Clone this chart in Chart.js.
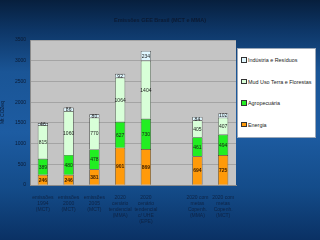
<!DOCTYPE html>
<html>
<head>
<meta charset="utf-8">
<script src="https://cdn.jsdelivr.net/npm/chart.js"></script>
<style>
  html, body { margin: 0; padding: 0; }
  body {
    width: 320px; height: 240px; overflow: hidden; position: relative;
    background: linear-gradient(180deg, #071f3d 0%, #0d3565 12%, #1a5596 30%, #1d5ca2 55%, #144c8a 78%, #0a3164 100%);
    font-family: "Liberation Sans", Arial, sans-serif;
  }
  #wrap { position: absolute; left: 0; top: 0; width: 320px; height: 240px; }
  #title {
    position: absolute; left: 0; width: 320px; top: 17px; text-align: center;
    font-size: 5.5px; font-weight: bold; color: #0b1a33;
  }
  #legend {
    position: absolute; left: 237px; top: 48px; width: 79px; height: 90px;
    background: #ffffff; border: 1px solid #9aa7b8; box-sizing: border-box;
  }
  .item { position: absolute; left: 3px; font-size: 5.4px; color: #222; white-space: nowrap; }
  .item span {
    display: inline-block; width: 3.5px; height: 3.5px; border: 0.8px solid #333;
    margin-right: 1.5px; vertical-align: -0.5px;
  }
</style>
</head>
<body>
<div id="wrap"><canvas id="chart" width="320" height="240"></canvas></div>
<div id="title">Emissões GEE Brasil (MCT e MMA)</div>
<div id="legend"></div>
<script>
// Categories (one empty slot between the scenarios)
const categories = [
  ["emissões", "1994", "(MCT)"],
  ["emissões", "2000", "(MCT)"],
  ["emissões", "2005", "(MCT)"],
  ["2020", "cenário", "tendencial", "(MMA)"],
  ["2020", "cenário", "tendencial", "c/ UHE", "(EPE)"],
  "",
  ["2020 com", "metas", "Copenh.", "(MMA)"],
  ["2020 com", "metas", "Copenh.", "(MCT)"]
];

// Series values (Mt CO2eq)
const energia = [246, 246, 381, 901, 869, null, 694, 725];
const agropecuaria = [389, 480, 478, 627, 730, null, 461, 494];
const mudUsoTerra = [815, 1060, 770, 1064, 1404, null, 405, 407];
const industria = [46, 86, 80, 92, 234, null, 84, 102];

const yTicks = [0, 500, 1000, 1500, 2000, 2500, 3000, 3500];

const seriesNames = ["Energia", "Agropecuária", "Mud Uso Terra e Florestas", "Indústria e Resíduos"];
const seriesColors = ["#ff9a0a", "#22ee22", "#d8ffd8", "#dff7ff"];

// Legend (top to bottom = reverse of stack order)
const legendEl = document.getElementById("legend");
const legendTops = [8, 29.5, 51, 72.5];
[3, 2, 1, 0].forEach((idx, i) => {
  const div = document.createElement("div");
  div.className = "item";
  div.style.top = legendTops[i] + "px";
  div.innerHTML = '<span style="background:' + seriesColors[idx] + '"></span>' + seriesNames[idx];
  legendEl.appendChild(div);
});

// Gray plot background
const plotBg = {
  id: "plotBg",
  beforeDraw(chart) {
    const { ctx, chartArea: a } = chart;
    ctx.save();
    ctx.fillStyle = "#c4c4c4";
    ctx.fillRect(a.left, a.top, a.right - a.left, a.bottom - a.top);
    ctx.restore();
  }
};

// Value labels in the middle of each segment
const segLabels = {
  id: "segLabels",
  afterDatasetsDraw(chart) {
    const ctx = chart.ctx;
    ctx.save();
    ctx.textAlign = "center";
    ctx.textBaseline = "middle";
    chart.data.datasets.forEach((ds, di) => {
      const meta = chart.getDatasetMeta(di);
      meta.data.forEach((bar, i) => {
        const v = ds.data[i];
        if (v == null) return;
        const y = (bar.y + bar.base) / 2;
        ctx.font = (di === 0 ? "bold " : "") + "5px 'Liberation Sans', Arial, sans-serif";
        ctx.fillStyle = di === 0 ? "#3a1d00" : "#1a1a1a";
        ctx.fillText(String(v), bar.x, y + 0.5);
      });
    });
    ctx.restore();
  }
};

const datasets = [energia, agropecuaria, mudUsoTerra, industria].map((d, i) => ({
  label: seriesNames[i],
  data: d,
  backgroundColor: seriesColors[i],
  borderColor: "#3a3a3a",
  borderWidth: 0.7,
  barPercentage: 0.4,
  categoryPercentage: 1.0
}));

new Chart(document.getElementById("chart").getContext("2d"), {
  type: "bar",
  data: { labels: categories, datasets: datasets },
  options: {
    responsive: false,
    animation: false,
    devicePixelRatio: 1,
    layout: { padding: { left: 0, top: 40, right: 84, bottom: 0 } },
    plugins: {
      legend: { display: false },
      title: { display: false },
      tooltip: { enabled: false }
    },
    scales: {
      x: {
        stacked: true,
        grid: { display: false },
        border: { color: "#8a8a8a" },
        ticks: {
          color: "#0d2345",
          font: { size: 5, family: "'Liberation Sans', Arial, sans-serif" },
          maxRotation: 0,
          autoSkip: false,
          padding: 2
        },
        afterFit(scale) { scale.height = 55; }
      },
      y: {
        stacked: true,
        min: 0,
        max: 3500,
        afterBuildTicks(scale) { scale.ticks = yTicks.map(v => ({ value: v })); },
        grid: { color: "#8e8e8e", lineWidth: 0.6, drawTicks: false },
        border: { color: "#8a8a8a" },
        ticks: {
          color: "#0a1a33",
          font: { size: 5, family: "'Liberation Sans', Arial, sans-serif" },
          padding: 4,
          callback: (v) => String(v)
        },
        title: {
          display: true,
          text: "Mt CO2eq",
          color: "#0a1a33",
          font: { size: 5, family: "'Liberation Sans', Arial, sans-serif" },
          padding: 0
        },
        afterFit(scale) { scale.width = 30; }
      }
    }
  },
  plugins: [plotBg, segLabels]
});
</script>
</body>
</html>
